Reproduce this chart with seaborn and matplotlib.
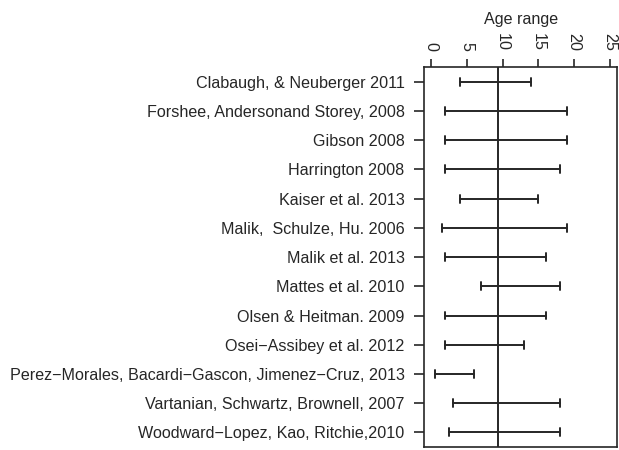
import pandas as pd
import matplotlib
matplotlib.use("Agg")
import matplotlib.pyplot as plt
import seaborn as sns

# ------------------------------
# Data: age range per study
# ------------------------------
studies = [
    "Clabaugh, & Neuberger 2011",
    "Forshee, Andersonand Storey, 2008",
    "Gibson 2008",
    "Harrington 2008",
    "Kaiser et al. 2013",
    "Malik,  Schulze, Hu. 2006",
    "Malik et al. 2013",
    "Mattes et al. 2010",
    "Olsen & Heitman. 2009",
    "Osei-Assibey et al. 2012",
    "Perez-Morales, Bacardi-Gascon, Jimenez-Cruz, 2013",
    "Vartanian, Schwartz, Brownell, 2007",
    "Woodward-Lopez, Kao, Ritchie,2010",
]
age_low = [4, 2, 2, 2, 4, 1.5, 2, 7, 2, 2, 0.5, 3, 2.5]
age_high = [14, 19, 19, 18, 15, 19, 16, 18, 16, 13, 6, 18, 18]
ref_age = 9.4
x_ticks = [0, 5, 10, 15, 20, 25]

# R prints the minus sign in hyphenated names
labels = [s.replace("-", "\u2212") for s in studies]

df = pd.DataFrame({
    "Study": labels * 2,
    "Age": age_low + age_high,
})

sns.set_theme(style="white")
plt.rcParams["font.family"] = ["Liberation Sans", "DejaVu Sans"]

ink = "#262626"
fs = 11.6

fig = plt.figure(figsize=(6.19, 4.5), dpi=100)
ax = fig.add_axes([0.685, 0.0067, 0.312, 0.844])

sns.pointplot(data=df, x="Age", y="Study", order=labels,
              estimator="mean", errorbar=("pi", 100),
              linestyle="none", marker="", color=ink,
              capsize=0.27, err_kws={"linewidth": 1.4}, ax=ax)

ax.axvline(ref_age, color=ink, linewidth=1.4)

ax.set_xlim(-1, 26)
ax.set_ylim(len(labels) - 0.5, -0.5)
ax.set_xticks(x_ticks)
ax.xaxis.tick_top()
ax.xaxis.set_label_position("top")
ax.tick_params(axis="x", labelrotation=270, labelsize=fs, length=6,
               width=1.2, color=ink, labelcolor=ink, direction="out",
               pad=6, bottom=False, top=True)
ax.tick_params(axis="y", labelsize=fs, length=7, width=1.2, color=ink,
               labelcolor=ink, direction="out", left=True, pad=7)
ax.set_xlabel("Age range", fontsize=fs, color=ink, labelpad=6)
ax.set_ylabel("")

for sp in ax.spines.values():
    sp.set_visible(True)
    sp.set_color(ink)
    sp.set_linewidth(1.2)

fig.savefig("out.png", dpi=100)
